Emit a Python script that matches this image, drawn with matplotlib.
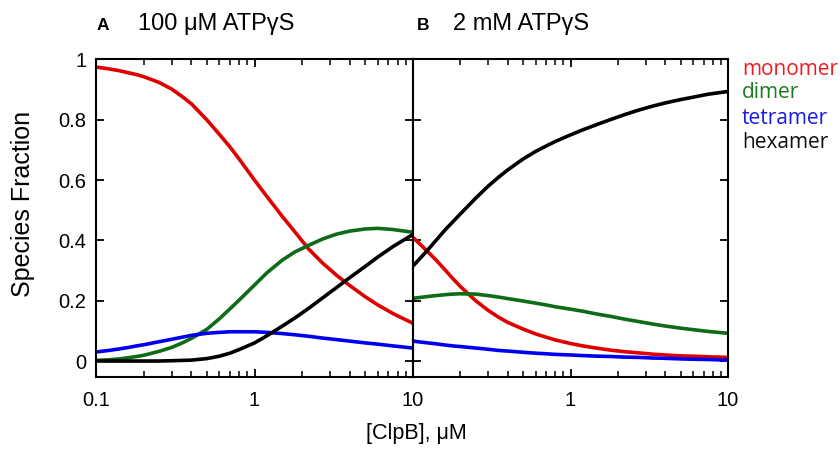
import matplotlib
matplotlib.use("Agg")
import matplotlib.pyplot as plt
from matplotlib.ticker import FixedLocator, FixedFormatter, NullFormatter

# ---- data ----
conc = [0.1, 0.12, 0.14, 0.16, 0.18, 0.2, 0.25, 0.3, 0.35, 0.4, 0.5, 0.6, 0.7, 0.8,
        1, 1.2, 1.5, 1.8, 2.2, 2.7, 3.3, 4, 5, 6, 7.5, 10]

a_monomer = [0.975, 0.969, 0.963, 0.956, 0.950, 0.943, 0.924, 0.902, 0.877, 0.853,
             0.80, 0.752, 0.71, 0.67, 0.60, 0.545, 0.479, 0.428, 0.371, 0.324,
             0.284, 0.25, 0.213, 0.186, 0.157, 0.125]
a_dimer = [0.002, 0.004, 0.007, 0.011, 0.015, 0.019, 0.032, 0.045, 0.06, 0.075,
           0.105, 0.14, 0.173, 0.202, 0.252, 0.293, 0.335, 0.362, 0.384, 0.405,
           0.421, 0.431, 0.438, 0.44, 0.436, 0.427]
a_tetramer = [0.03, 0.035, 0.04, 0.045, 0.05, 0.054, 0.064, 0.072, 0.079, 0.085,
              0.092, 0.095, 0.097, 0.097, 0.097, 0.095, 0.091, 0.087, 0.082, 0.076,
              0.071, 0.066, 0.06, 0.056, 0.05, 0.043]
a_hexamer = [0.0, 0.0, 0.0, 0.0, 0.0, 0.0, 0.0, 0.001, 0.002, 0.003,
             0.008, 0.016, 0.026, 0.038, 0.06, 0.084, 0.116, 0.143, 0.175, 0.21,
             0.244, 0.277, 0.314, 0.345, 0.38, 0.42]

b_monomer = [0.41, 0.37, 0.335, 0.302, 0.272, 0.247, 0.2, 0.168, 0.145, 0.128,
             0.106, 0.09, 0.079, 0.07, 0.058, 0.05, 0.042, 0.036, 0.031, 0.027,
             0.023, 0.02, 0.017, 0.016, 0.014, 0.012]
b_dimer = [0.208, 0.213, 0.217, 0.22, 0.222, 0.223, 0.222, 0.217, 0.212, 0.207,
           0.199, 0.192, 0.186, 0.18, 0.172, 0.165, 0.155, 0.148, 0.139, 0.131,
           0.123, 0.116, 0.109, 0.104, 0.098, 0.092]
b_tetramer = [0.066, 0.061, 0.057, 0.053, 0.05, 0.048, 0.043, 0.039, 0.035, 0.033,
              0.029, 0.026, 0.024, 0.022, 0.02, 0.018, 0.016, 0.015, 0.013, 0.012,
              0.01, 0.009, 0.007, 0.006, 0.005, 0.003]
b_hexamer = [0.315, 0.36, 0.40, 0.435, 0.463, 0.488, 0.54, 0.58, 0.61, 0.634,
             0.67, 0.695, 0.713, 0.728, 0.75, 0.767, 0.786, 0.801, 0.817, 0.832,
             0.845, 0.856, 0.867, 0.875, 0.885, 0.894]

species = ["monomer", "dimer", "tetramer", "hexamer"]
colors = ["#E00000", "#0E6B17", "#0000F0", "#000000"]
text_colors = ["#EE1C25", "#1E7B1E", "#1A1AE6", "#111111"]
titles = ["100 \u03bcM ATP\u03b3S", "2 mM ATP\u03b3S"]
panel_letters = ["A", "B"]
yticks = [0, 0.2, 0.4, 0.6, 0.8, 1]
ytick_labels = ["0", "0.2", "0.4", "0.6", "0.8", "1"]

narrow = ["Liberation Sans Narrow", "Liberation Sans", "DejaVu Sans"]
regular = ["Liberation Sans", "DejaVu Sans"]

fig = plt.figure(figsize=(8.4, 4.5), dpi=100)
W, H = 840, 450
top_px, bot_px = 59.5, 377
axA = fig.add_axes([96 / W, 1 - bot_px / H, 317 / W, (bot_px - top_px) / H])
axB = fig.add_axes([413 / W, 1 - bot_px / H, 315 / W, (bot_px - top_px) / H])

data = [[a_monomer, a_dimer, a_tetramer, a_hexamer],
        [b_monomer, b_dimer, b_tetramer, b_hexamer]]

minor = [v * d for d in (0.1, 1) for v in range(2, 10)]

for i, ax in enumerate((axA, axB)):
    for series, c in zip(data[i], colors):
        ax.plot(conc, series, color=c, lw=2.6, solid_capstyle="butt",
                solid_joinstyle="round")
    ax.set_xscale("log")
    ax.set_xlim(0.1, 10)
    ax.set_ylim(-0.053, 1.0)
    ax.xaxis.set_major_locator(FixedLocator([0.1, 1, 10]))
    ax.xaxis.set_minor_locator(FixedLocator(minor))
    ax.xaxis.set_minor_formatter(NullFormatter())
    if i == 0:
        ax.xaxis.set_major_formatter(FixedFormatter(["0.1", "1", "10"]))
    else:
        ax.xaxis.set_major_formatter(FixedFormatter(["", "1", "10"]))
    ax.yaxis.set_major_locator(FixedLocator(yticks))
    if i == 0:
        ax.yaxis.set_major_formatter(FixedFormatter(ytick_labels))
    else:
        ax.yaxis.set_major_formatter(NullFormatter())
    ax.tick_params(which="major", direction="in", top=True, right=True,
                   length=6, width=1.3, labelsize=14.5, pad=7)
    ax.tick_params(which="minor", direction="in", top=True, right=True,
                   length=4, width=1.1)
    ax.tick_params(axis="x", which="major", pad=10)
    for lab in ax.get_xticklabels() + ax.get_yticklabels():
        lab.set_family(narrow)
    for s in ax.spines.values():
        s.set_linewidth(1.5)

# panel titles
fig.text(97 / W, 1 - 30 / H, panel_letters[0], fontsize=12.5, fontweight="bold",
         family=regular, ha="left", va="baseline")
fig.text(138 / W, 1 - 30 / H, titles[0], fontsize=17, family=regular,
         ha="left", va="baseline")
fig.text(417 / W, 1 - 30 / H, panel_letters[1], fontsize=12.5, fontweight="bold",
         family=regular, ha="left", va="baseline")
fig.text(453 / W, 1 - 30 / H, titles[1], fontsize=17, family=regular,
         ha="left", va="baseline")

fig.text(23 / W, 1 - 204 / H, "Species Fraction", fontsize=18, family=regular,
         rotation=90, ha="center", va="center")
fig.text(416 / W, 1 - 433 / H, "[ClpB], \u03bcM", fontsize=15.5, family=narrow,
         ha="center", va="center")

legend_base = [75, 98.5, 123.5, 147.5]
for name, tc, yy in zip(species, text_colors, legend_base):
    fig.text(742 / W, 1 - yy / H, name, color=tc, fontsize=15,
             family=["Open Sans", "DejaVu Sans"], ha="left", va="baseline")

fig.savefig("out.png", dpi=100)
